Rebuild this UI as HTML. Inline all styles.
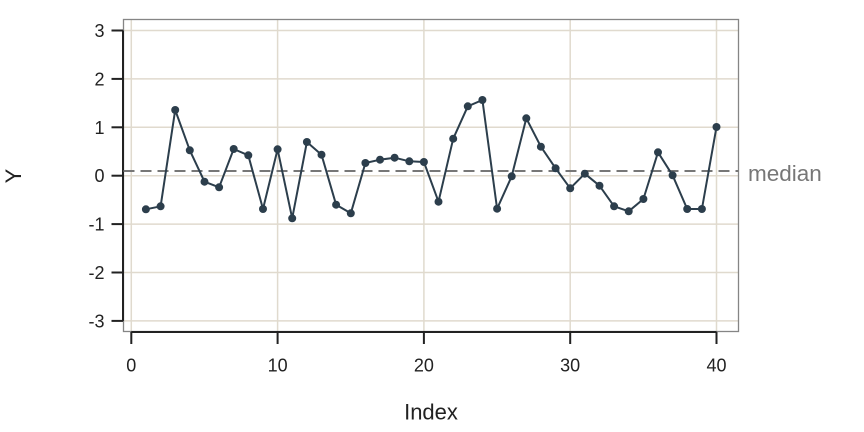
<!DOCTYPE html>
<html>
<head>
<meta charset="utf-8">
<style>
html,body{margin:0;padding:0;background:#fff;}
svg{display:block;}
text{font-family:"Liberation Sans",Arial,sans-serif;}
</style>
</head>
<body>
<svg width="864" height="432" viewBox="0 0 864 432" xmlns="http://www.w3.org/2000/svg">
<rect x="0" y="0" width="864" height="432" fill="#ffffff"/>
<g stroke="#e0dace" stroke-width="1.5" fill="none">
<line x1="131.3" y1="19.5" x2="131.3" y2="331.5"/>
<line x1="277.6" y1="19.5" x2="277.6" y2="331.5"/>
<line x1="423.9" y1="19.5" x2="423.9" y2="331.5"/>
<line x1="570.2" y1="19.5" x2="570.2" y2="331.5"/>
<line x1="716.5" y1="19.5" x2="716.5" y2="331.5"/>
<line x1="123.5" y1="30.5" x2="738.5" y2="30.5"/>
<line x1="123.5" y1="78.9" x2="738.5" y2="78.9"/>
<line x1="123.5" y1="127.3" x2="738.5" y2="127.3"/>
<line x1="123.5" y1="175.7" x2="738.5" y2="175.7"/>
<line x1="123.5" y1="224.1" x2="738.5" y2="224.1"/>
<line x1="123.5" y1="272.5" x2="738.5" y2="272.5"/>
<line x1="123.5" y1="320.9" x2="738.5" y2="320.9"/>
</g>
<rect x="123.5" y="19.5" width="615" height="312" fill="none" stroke="#858585" stroke-width="1.3"/>
<g stroke="#222" stroke-width="2" fill="none">
<line x1="123" y1="30.5" x2="123" y2="320.9"/>
<line x1="131.3" y1="332" x2="716.5" y2="332"/>
<line x1="111.5" y1="30.5" x2="123" y2="30.5"/>
<line x1="111.5" y1="78.9" x2="123" y2="78.9"/>
<line x1="111.5" y1="127.3" x2="123" y2="127.3"/>
<line x1="111.5" y1="175.7" x2="123" y2="175.7"/>
<line x1="111.5" y1="224.1" x2="123" y2="224.1"/>
<line x1="111.5" y1="272.5" x2="123" y2="272.5"/>
<line x1="111.5" y1="320.9" x2="123" y2="320.9"/>
<line x1="131.3" y1="332" x2="131.3" y2="344"/>
<line x1="277.6" y1="332" x2="277.6" y2="344"/>
<line x1="423.9" y1="332" x2="423.9" y2="344"/>
<line x1="570.2" y1="332" x2="570.2" y2="344"/>
<line x1="716.5" y1="332" x2="716.5" y2="344"/>
</g>
<g font-size="18" fill="#222" text-anchor="end">
<text x="104.5" y="37">3</text>
<text x="104.5" y="85.4">2</text>
<text x="104.5" y="133.8">1</text>
<text x="104.5" y="182.2">0</text>
<text x="104.5" y="230.6">-1</text>
<text x="104.5" y="279">-2</text>
<text x="104.5" y="327.4">-3</text>
</g>
<g font-size="18" fill="#222" text-anchor="middle">
<text x="131.3" y="371.5">0</text>
<text x="277.6" y="371.5">10</text>
<text x="423.9" y="371.5">20</text>
<text x="570.2" y="371.5">30</text>
<text x="716.5" y="371.5">40</text>
</g>
<text x="431" y="419.3" font-size="22" fill="#222" text-anchor="middle">Index</text>
<text transform="translate(21,176) rotate(-90)" font-size="22" fill="#222" text-anchor="middle">Y</text>
<line x1="123.5" y1="171" x2="738.5" y2="171" stroke="#777" stroke-width="2" stroke-dasharray="11,6"/>
<text x="748" y="181" font-size="22.5" fill="#777">median</text>
<polyline fill="none" stroke="#2c3e4c" stroke-width="2" stroke-linejoin="round" points="145.9,209.3 160.6,206.3 175.2,110 189.8,150.3 204.5,181.7 219.1,187.3 233.7,149 248.3,155.3 263.0,209 277.6,149.3 292.2,218.3 306.9,142 321.5,154.7 336.1,204.7 350.8,213.3 365.4,163 380.0,159.7 394.6,157.7 409.3,161.3 423.9,162 438.5,201.7 453.2,138.7 467.8,106.3 482.4,100 497.1,208.7 511.7,176.3 526.3,118.3 540.9,146.7 555.6,168.3 570.2,188.3 584.8,173.7 599.5,185.7 614.1,206.3 628.7,211.3 643.4,199 658.0,152.3 672.6,175.3 687.2,209 701.9,209 716.5,127"/>
<g fill="#2c3e4c">
<circle cx="145.9" cy="209.3" r="4"/>
<circle cx="160.6" cy="206.3" r="4"/>
<circle cx="175.2" cy="110" r="4"/>
<circle cx="189.8" cy="150.3" r="4"/>
<circle cx="204.5" cy="181.7" r="4"/>
<circle cx="219.1" cy="187.3" r="4"/>
<circle cx="233.7" cy="149" r="4"/>
<circle cx="248.3" cy="155.3" r="4"/>
<circle cx="263.0" cy="209" r="4"/>
<circle cx="277.6" cy="149.3" r="4"/>
<circle cx="292.2" cy="218.3" r="4"/>
<circle cx="306.9" cy="142" r="4"/>
<circle cx="321.5" cy="154.7" r="4"/>
<circle cx="336.1" cy="204.7" r="4"/>
<circle cx="350.8" cy="213.3" r="4"/>
<circle cx="365.4" cy="163" r="4"/>
<circle cx="380.0" cy="159.7" r="4"/>
<circle cx="394.6" cy="157.7" r="4"/>
<circle cx="409.3" cy="161.3" r="4"/>
<circle cx="423.9" cy="162" r="4"/>
<circle cx="438.5" cy="201.7" r="4"/>
<circle cx="453.2" cy="138.7" r="4"/>
<circle cx="467.8" cy="106.3" r="4"/>
<circle cx="482.4" cy="100" r="4"/>
<circle cx="497.1" cy="208.7" r="4"/>
<circle cx="511.7" cy="176.3" r="4"/>
<circle cx="526.3" cy="118.3" r="4"/>
<circle cx="540.9" cy="146.7" r="4"/>
<circle cx="555.6" cy="168.3" r="4"/>
<circle cx="570.2" cy="188.3" r="4"/>
<circle cx="584.8" cy="173.7" r="4"/>
<circle cx="599.5" cy="185.7" r="4"/>
<circle cx="614.1" cy="206.3" r="4"/>
<circle cx="628.7" cy="211.3" r="4"/>
<circle cx="643.4" cy="199" r="4"/>
<circle cx="658.0" cy="152.3" r="4"/>
<circle cx="672.6" cy="175.3" r="4"/>
<circle cx="687.2" cy="209" r="4"/>
<circle cx="701.9" cy="209" r="4"/>
<circle cx="716.5" cy="127" r="4"/>
</g>
</svg>
</body>
</html>
